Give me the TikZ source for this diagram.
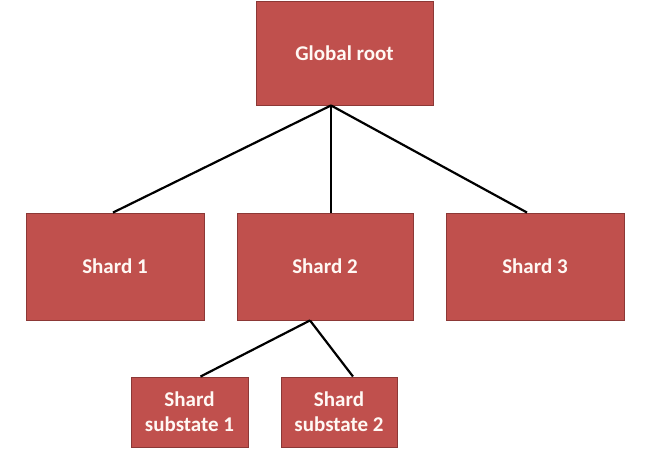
\documentclass[tikz,border=0pt]{standalone}
\usepackage{fontspec}
\setmainfont{Carlito}
\usetikzlibrary{calc}
\definecolor{boxfill}{HTML}{C0504D}
\definecolor{boxline}{HTML}{8C3836}
\definecolor{boxtext}{HTML}{FFF8F4}
\begin{document}
\begin{tikzpicture}[x=1pt,y=-1pt,
  box/.style={draw=boxline, line width=0.9pt, fill=boxfill, text=boxtext,
    font=\bfseries\fontsize{21}{25}\selectfont, align=center, inner sep=0pt},
  link/.style={draw=black, line width=2.2pt}]
\useasboundingbox (0,0) rectangle (662,454);
\node[box, minimum width=177pt, minimum height=104pt] (root) at (344.5,53) {Global root};
\node[box, minimum width=178pt, minimum height=107pt] (s1) at (115,266.5) {Shard 1};
\node[box, minimum width=176pt, minimum height=107pt] (s2) at (325,266.5) {Shard 2};
\node[box, minimum width=178pt, minimum height=107pt] (s3) at (535,266.5) {Shard 3};
\node[box, minimum width=117pt, minimum height=70pt] (u1) at (189.5,412) {Shard\\substate 1};
\node[box, minimum width=116pt, minimum height=70pt] (u2) at (339,412) {Shard\\substate 2};
\coordinate (rb) at ([xshift=-13.5pt]root.south);
\coordinate (sb) at ([xshift=-15pt]s2.south);
\draw[link] (rb) -- ([xshift=-2pt]s1.north);
\draw[link] (rb) -- (rb |- s2.north);
\draw[link] (rb) -- ([xshift=-8pt]s3.north);
\draw[link] (sb) -- ([xshift=11pt]u1.north);
\draw[link] (sb) -- ([xshift=14pt]u2.north);
\end{tikzpicture}
\end{document}
